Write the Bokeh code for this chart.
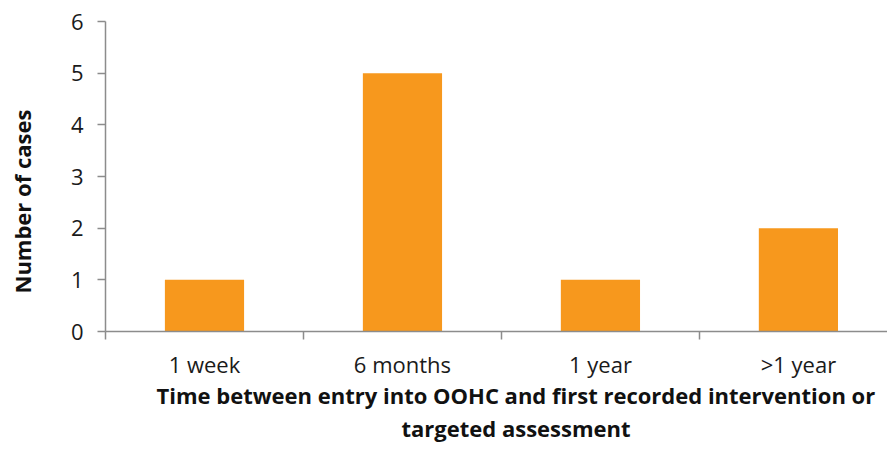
import math
from bokeh.plotting import figure
from bokeh.models import Range1d, FixedTicker, Title, ColumnDataSource
from bokeh.embed import file_html
from bokeh.resources import INLINE

# Chart data
categories = ["1 week", "6 months", "1 year", ">1 year"]
cases = [1, 5, 1, 2]
y_ticks = [0, 1, 2, 3, 4, 5, 6]

x_title_lines = ["Time between entry into OOHC and first recorded intervention or",
                 "targeted assessment"]
y_title = "Number of cases"

FONT = "Open Sans"
BAR = "#F7981D"
AXIS = "#8C8C8C"

centers = [i + 0.5 for i in range(len(categories))]
src = ColumnDataSource(dict(x=centers, top=cases))

p = figure(width=887, height=451, output_backend="svg", toolbar_location=None,
           x_range=Range1d(0, 3.95), y_range=Range1d(0, 6),
           min_border_left=105, min_border_right=0, min_border_top=21,
           min_border_bottom=120)
p.outline_line_color = None
p.grid.visible = False
p.background_fill_color = "white"
p.border_fill_color = "white"

p.vbar(x="x", top="top", width=0.4, source=src, fill_color=BAR, line_color=None)

# x axis: labels under each category, tick marks between categories
xa = p.xaxis[0]
xa.ticker = FixedTicker(ticks=centers, minor_ticks=list(range(len(categories))))
xa.major_label_overrides = {c: lab for c, lab in zip(centers, categories)}
xa.major_tick_out = 0
xa.major_tick_in = 0
xa.minor_tick_out = 8
xa.minor_tick_in = 0
xa.minor_tick_line_color = AXIS
xa.minor_tick_line_width = 1.5
xa.axis_line_color = AXIS
xa.axis_line_width = 1.5
xa.major_label_text_font = FONT
xa.major_label_text_font_size = "22px"
xa.major_label_text_color = "#1a1a1a"
xa.major_label_standoff = 9

ya = p.yaxis[0]
ya.ticker = FixedTicker(ticks=y_ticks, minor_ticks=[])
ya.major_tick_out = 8
ya.major_tick_in = 0
ya.major_tick_line_color = AXIS
ya.major_tick_line_width = 1.5
ya.axis_line_color = AXIS
ya.axis_line_width = 1.5
ya.major_label_text_font = FONT
ya.major_label_text_font_size = "22px"
ya.major_label_text_color = "#1a1a1a"
ya.major_label_standoff = 14

# axis titles
for line, off, so in zip(x_title_lines, [51, 296], [-8, 11]):
    p.add_layout(Title(text=line, align="left", offset=off, standoff=so,
                       text_font=FONT, text_font_style="bold",
                       text_font_size="22px", text_line_height=1.0,
                       text_color="#111111"), "below")

# blank spacer panel between the y tick labels and the y title
p.add_layout(Title(text=" ", standoff=24, text_font_size="1px"), "left")
p.add_layout(Title(text=y_title, align="left", offset=38, standoff=8,
                   text_font=FONT, text_font_style="bold",
                   text_font_size="22px", text_line_height=1.0,
                   text_color="#111111"), "left")

open("out.html", "w").write(file_html(p, INLINE))
